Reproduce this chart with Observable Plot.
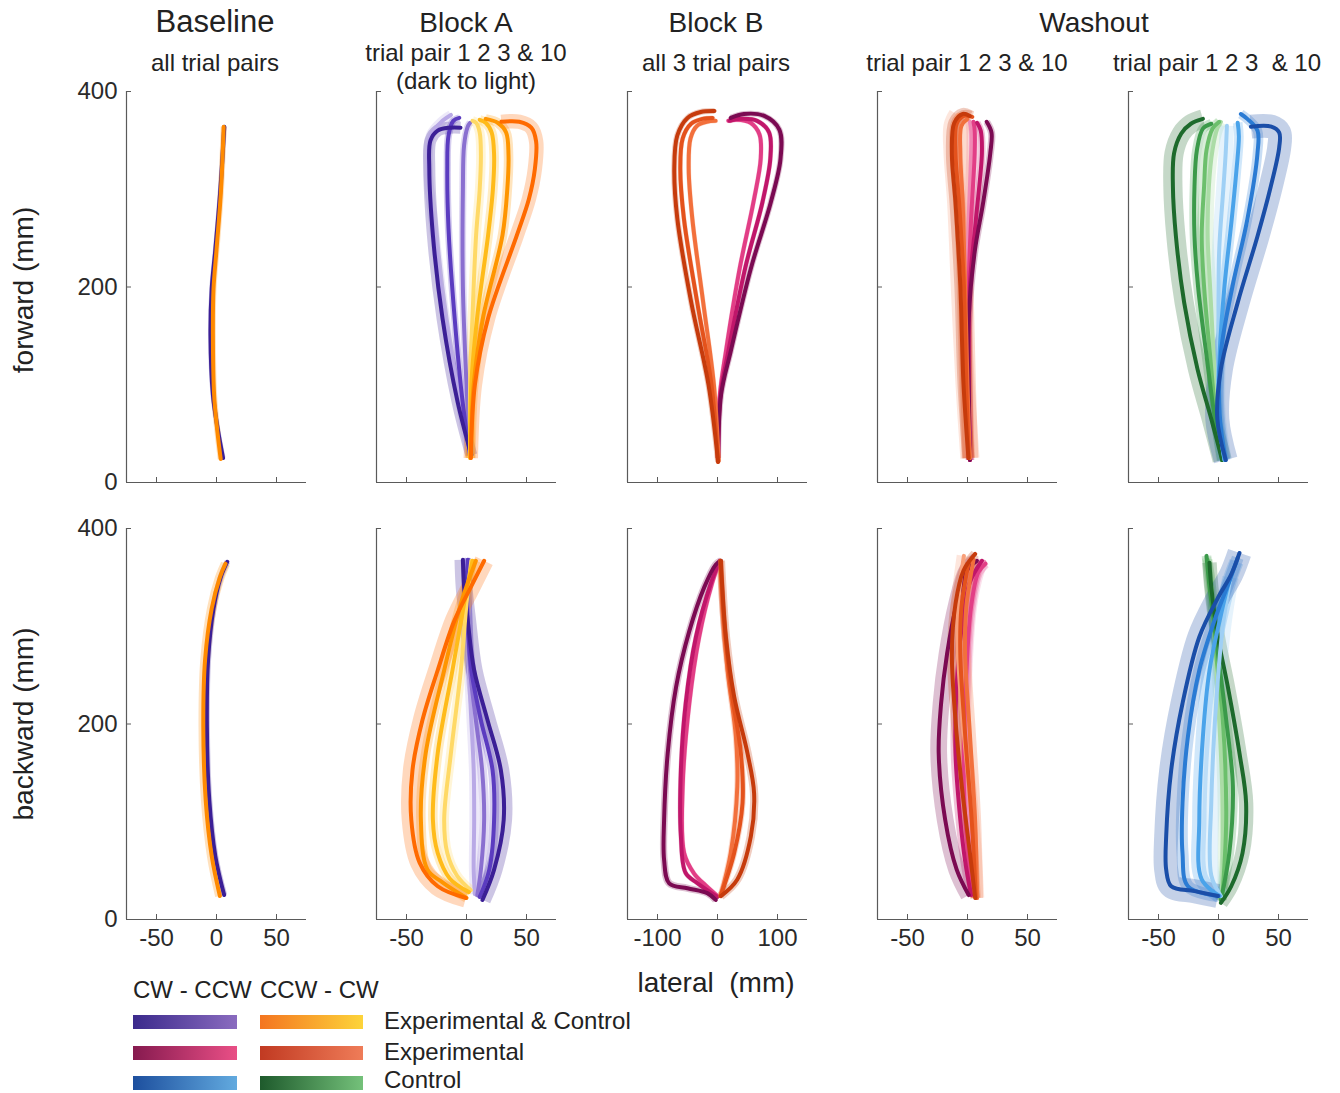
<!DOCTYPE html>
<html><head><meta charset="utf-8">
<script src="https://cdn.jsdelivr.net/npm/d3@7"></script>
<script src="https://cdn.jsdelivr.net/npm/@observablehq/plot@0.6"></script>
<style>
body{margin:0;background:#fff;font-family:"Liberation Sans",Arial,sans-serif;}
#wrap{position:relative;width:1340px;height:1093px;overflow:hidden;background:#fff;}
.panel{position:absolute;}
#ann{position:absolute;left:0;top:0;}
</style></head><body>
<div id="wrap">
<svg id="ann" width="1340" height="1093" font-family="Liberation Sans, Arial, sans-serif" fill="#222">
  <defs>
    <linearGradient id="g1"><stop offset="0" stop-color="#3b2a8c"/><stop offset="1" stop-color="#8a6bbf"/></linearGradient>
    <linearGradient id="g2"><stop offset="0" stop-color="#f47520"/><stop offset="1" stop-color="#fdd43a"/></linearGradient>
    <linearGradient id="g3"><stop offset="0" stop-color="#861a4f"/><stop offset="1" stop-color="#e94f86"/></linearGradient>
    <linearGradient id="g4"><stop offset="0" stop-color="#c13a22"/><stop offset="1" stop-color="#ef7c58"/></linearGradient>
    <linearGradient id="g5"><stop offset="0" stop-color="#1d4f9e"/><stop offset="1" stop-color="#62aadf"/></linearGradient>
    <linearGradient id="g6"><stop offset="0" stop-color="#1e5a2c"/><stop offset="1" stop-color="#74c17a"/></linearGradient>
  </defs>
  <g font-size="28" text-anchor="middle">
    <text x="215" y="32" font-size="31">Baseline</text>
    <text x="466" y="32">Block A</text>
    <text x="716" y="32">Block B</text>
    <text x="1094" y="32">Washout</text>
  </g>
  <g font-size="24" text-anchor="middle">
    <text x="215" y="71">all trial pairs</text>
    <text x="466" y="61">trial pair 1 2 3 &amp; 10</text>
    <text x="466" y="89">(dark to light)</text>
    <text x="716" y="71">all 3 trial pairs</text>
    <text x="967" y="71">trial pair 1 2 3 &amp; 10</text>
    <text x="1217" y="71">trial pair 1 2 3 &#160;&amp; 10</text>
  </g>
  <g font-size="28" text-anchor="middle">
    <text transform="translate(33,290) rotate(-90)">forward (mm)</text>
    <text transform="translate(33,724) rotate(-90)">backward (mm)</text>
    <text x="716" y="992">lateral &#160;(mm)</text>
  </g>
  <g font-size="24">
    <text x="133" y="998">CW - CCW</text>
    <text x="260" y="998">CCW - CW</text>
    <text x="384" y="1029">Experimental &amp; Control</text>
    <text x="384" y="1060">Experimental</text>
    <text x="384" y="1088">Control</text>
  </g>
  <rect x="133" y="1015" width="104" height="14" fill="url(#g1)"/>
  <rect x="260" y="1015" width="103" height="14" fill="url(#g2)"/>
  <rect x="133" y="1046" width="104" height="14" fill="url(#g3)"/>
  <rect x="260" y="1046" width="103" height="14" fill="url(#g4)"/>
  <rect x="133" y="1076" width="104" height="14" fill="url(#g5)"/>
  <rect x="260" y="1076" width="103" height="14" fill="url(#g6)"/>
</svg>
</div>
<script>
// ---------------- DATA (lateral mm, forward/backward mm) ----------------
// Baseline
const baseFwdCW  = [[[5.5,25],[1,55],[-3,90],[-5,150],[-4,198],[-1,238],[3,296],[6.5,364]]];
const baseFwdCCW = [[[3.5,24],[0.5,55],[-2,90],[-3,152],[-2.5,198],[0,238],[3.6,296],[6,364]]];
const baseBwdCW  = [[[6.4,25],[-1,65],[-6,122],[-8,197],[-7,266],[-2.5,318],[3.5,350],[9,366]]];
const baseBwdCCW = [[[2.8,24],[-4,65],[-9,122],[-11,197],[-9.5,266],[-4,318],[2.8,350],[7.5,364]]];
const baseFwdCW_sd = [2], baseFwdCCW_sd = [2.5], baseBwdCW_sd = [2.5], baseBwdCCW_sd = [4];

// Block A (trial pair 1, 2, 3, 10)
const blockAFwdCW = [
  [[4,28],[-7.5,83],[-20,168],[-28,253],[-31,321],[-30,350],[-24,360],[-14,363],[-5,363]],
  [[3,28],[-3,80],[-10,170],[-15,260],[-16,320],[-15,355],[-11,370],[-6,373]],
  [[3,28],[0,100],[-3,200],[-3,300],[-2,345],[1,364],[3,368]],
  [[3,28],[-5,80],[-18,170],[-27,260],[-32,320],[-30,355],[-20,370],[-13,376]]
];
const blockAFwdCCW = [
  [[3.6,25],[7,100],[18,168],[42,253],[52,290],[57,321],[58,349],[54,363],[44,369],[29,369]],
  [[3.6,25],[6,100],[14,170],[30,253],[34,300],[35,335],[33,358],[26,368],[16,372]],
  [[3,25],[4,100],[9,170],[18,253],[22,300],[23,335],[21,358],[16,368],[11,371]],
  [[3,25],[3,100],[5,170],[8,253],[11,300],[12,335],[11,358],[8,368],[5,370]]
];
const blockABwdCW = [
  [[13.3,20],[23,51],[31,102],[28.6,153],[17.5,204],[6.4,255],[1,306],[-2,340],[-3,368]],
  [[11,23],[19,51],[23,102],[21.7,153],[12,204],[4,255],[1,306],[0,340],[1,368]],
  [[9,25],[12,51],[14.7,102],[13,153],[7.8,204],[3,255],[1,306],[1,340],[2,368]],
  [[7,26],[6,51],[6.4,102],[6,153],[4,204],[2,255],[1,306],[0,340],[-1,368]]
];
const blockABwdCCW = [
  [[-0.5,22],[-24,34],[-39,58],[-46,102],[-45,153],[-36.7,204],[-24,255],[-10,306],[3.6,340],[14.7,367]],
  [[0,22],[-20,38],[-32.5,51],[-38,102],[-34,170],[-18.6,255],[-4.7,323],[7.8,367]],
  [[2,28],[-14,42],[-24,68],[-28,102],[-24,170],[-11.7,255],[-2,323],[5,367]],
  [[3.6,30],[-8,45],[-16,68],[-18.6,102],[-13,170],[-4.7,255],[0,323],[4,367]]
];
const blockAFwdCW_sd = [5,3,3,4], blockAFwdCCW_sd = [6,4,4,4];
const blockABwdCW_sd = [7,4,4,4], blockABwdCCW_sd = [8,4,4,4];

// Block B (3 trial pairs)
const blockBFwdCW = [
  [[1,25],[6,90],[22,134],[55.6,219],[89,287],[105,331],[103,361],[78,375],[44,377],[22,373]],
  [[1,25],[5,90],[18,134],[46,219],[75,287],[88,331],[86,358],[66,370],[38,372],[20,370]],
  [[1,25],[4,90],[14,134],[37,219],[60,287],[72,331],[70,356],[55,368],[32,371],[18,370]]
];
const blockBFwdCCW = [
  [[1,21],[-15,100],[-44,185],[-67,270],[-72,321],[-67,355],[-50,373],[-28,379],[-5,380]],
  [[1,21],[-10,100],[-34,185],[-56,270],[-62,321],[-58,352],[-44,367],[-25,372],[-8,373]],
  [[2,22],[-6,100],[-24,185],[-42,270],[-48,321],[-45,352],[-34,365],[-18,369],[-3,370]]
];
const blockBBwdCW = [
  [[-3,20],[-17,27],[-50,32],[-80.5,37],[-89,61],[-89,102],[-83,170],[-69,238],[-47,295],[-22,340],[-3,363],[5.6,367]],
  [[0,23],[-33,37],[-53,47.5],[-61,85],[-61,153],[-53,221],[-36,289],[-11,344],[4,367]],
  [[0,24],[-20,35],[-39,47],[-55.6,68],[-58,136],[-47,221],[-30.6,289],[-9,344],[4,367]]
];
const blockBBwdCCW = [
  [[5.6,24],[33,41],[55.6,85],[61,129],[50,170],[27.8,228],[14,289],[8,340],[5.6,367]],
  [[5,24],[27.8,68],[41.7,119],[39,170],[22,238],[11,306],[5,367]],
  [[5,24],[22,68],[33,136],[30.6,187],[16.7,255],[8,320],[5,367]]
];
const blockBFwdCW_sd = [5,4,4], blockBFwdCCW_sd = [5,4,4];
const blockBBwdCW_sd = [6,4,4], blockBBwdCCW_sd = [7,5,5];

// Washout, experimental group (trial pair 1, 2, 3, 10)
const washExpFwdCW = [
  [[2,23],[1,100],[1,168],[6,236],[13,286],[19,337],[20,358],[16,369]],
  [[2,23],[1,100],[2,202],[7,269],[12,337],[11,360],[8,368]],
  [[2,23],[1,100],[1,202],[3,269],[6,337],[6,360],[5,369]],
  [[2,23],[1,100],[0,202],[1,269],[3,337],[3,360],[2,369]]
];
const washExpFwdCCW = [
  [[0.8,25],[-3.3,100],[-6,202],[-10,286],[-13,337],[-11,368],[-4,377],[2,375]],
  [[1,25],[-1,100],[-3,202],[-7,286],[-10,337],[-9,367],[-3,375],[4,374]],
  [[2,25],[0,100],[-2,202],[-4,286],[-6,337],[-5,365],[0,372]],
  [[2,25],[-2,100],[-6,202],[-9,286],[-12,337],[-12,365],[-8,376]]
];
const washExpBwdCW = [
  [[1,25],[-9,51],[-18.6,102],[-24,170],[-22,221],[-17,272],[-9,323],[-0.5,357],[7.8,367]],
  [[3,25],[-2,60],[-6,102],[-10,170],[-9,240],[-4.7,300],[2,345],[12,367]],
  [[5,25],[1,60],[-3,136],[-1,250],[3,320],[9,355],[15,364]],
  [[6,24],[3,60],[-1,136],[0,250],[4,320],[10,355],[14,366]]
];
const washExpBwdCCW = [
  [[6.4,22],[2,68],[-4.7,136],[-10,204],[-13,272],[-10,323],[-3.3,357],[6.4,374]],
  [[7,22],[3.6,100],[-2,190],[-6,272],[-5,320],[1,365]],
  [[8,22],[6.4,100],[2,190],[-2,272],[-1,320],[5,368]],
  [[8,22],[4,100],[-3,190],[-8,272],[-8,320],[-3,372]]
];
const washExpFwdCW_sd = [3,3,3,4], washExpFwdCCW_sd = [5,5,7,8];
const washExpBwdCW_sd = [7,4,4,4], washExpBwdCCW_sd = [4,4,5,6];

// Washout, control group (trial pair 1, 2, 3, 10)
const washCtlFwdCW = [
  [[6,23],[-1,65],[2,116],[16,184],[32.5,252],[43.6,303],[50.6,343],[50.6,358],[44,364],[27,364]],
  [[6,23],[1,70],[2,133],[11.7,201],[24,269],[32.5,337],[32.5,360],[24,372],[18.6,377]],
  [[5,23],[0,70],[1,133],[5,201],[11,269],[15,320],[17,354],[16,368]],
  [[5,23],[0,70],[0,133],[0.5,235],[4,300],[6,337],[7,365]]
];
const washCtlFwdCCW = [
  [[3,23],[-6,65],[-17.5,116],[-28.6,184],[-35.5,252],[-38,303],[-37,337],[-31,357],[-23,367],[-13,372]],
  [[3,23],[-3,65],[-10,130],[-17,200],[-20,252],[-20,303],[-18,340],[-13,362],[-6,367]],
  [[3,23],[-2,65],[-7,130],[-12,200],[-14,252],[-12,303],[-10,340],[-5,362],[0.5,369]],
  [[3,23],[-1,65],[-4,130],[-7,200],[-9,252],[-8,303],[-5,340],[-1,362],[2,369]]
];
const washCtlBwdCW = [
  [[-0.5,24],[-20,29],[-39.4,34],[-43.6,51],[-43.6,85],[-39.4,153],[-30,221],[-16,289],[-0.5,329],[10.6,353],[17.5,375]],
  [[0,24],[-25.5,34],[-30,68],[-30,119],[-25.5,187],[-16,255],[-3.3,306],[9,346],[16,370]],
  [[1,24],[-14,41],[-16,102],[-13,187],[-7.5,255],[1,306],[9,346],[15,366]],
  [[2,24],[-6,45],[-6,120],[-2,221],[3.6,300],[10,350]]
];
const washCtlBwdCCW = [
  [[2,17],[10.6,34],[20,68],[23,119],[17.5,170],[7.8,238],[-0.5,289],[-6,340],[-7.5,365]],
  [[2,20],[9,68],[12,136],[6.4,204],[-0.5,272],[-7.5,340],[-10,372]],
  [[3,20],[6.4,102],[3.6,204],[-2,272],[-6,340],[-9,368]],
  [[3,20],[3,136],[-1,238],[-6,340],[-10,370]]
];
const washCtlFwdCW_sd = [10,4,4,6], washCtlFwdCCW_sd = [8,4,4,5];
const washCtlBwdCW_sd = [10,5,6,7], washCtlBwdCCW_sd = [6,4,4,4];

// Axis ticks
const yTicks = [0, 200, 400];
const xTicksNarrow = [-50, 0, 50];
const xTicksWide = [-100, 0, 100];

// ---------------- STYLE ----------------
const purple  = ["#3b1f96","#5b3cc0","#8a6fd0","#b9a9e6"];
const orange  = ["#ff6a00","#ff9500","#ffbb1a","#ffd966"];
const magenta = ["#7b0a52","#c0166a","#e23e86","#f08ab4"];
const red     = ["#c63b0c","#e4521c","#f2703c","#f8a07a"];
const blue    = ["#1a4ea8","#2a7bd4","#4aa3ea","#9fd0f5"];
const green   = ["#1d6a2c","#3b9a4a","#6cbf6c","#abdca6"];
const basePurple = ["#3b1f96"], baseOrange = ["#ff8a00"];

const W = 251, H = 441, ML = 60, MR = 11, MT = 10, MB = 40;
const axisLeft = [125.5, 376, 626.5, 877, 1128];
const rowTop = [91, 528];

function panel(row, col, xdom, xticks, groups) {
  const pxPerMm = (W - ML - MR) / (xdom[1] - xdom[0]);
  const marks = [];
  for (const g of groups) {
    for (let i = g.data.length - 1; i >= 0; i--) {
      marks.push(Plot.line(g.data[i], {x: d => d[0], y: d => d[1], curve: "catmull-rom",
        stroke: g.pal[i], strokeOpacity: 0.26, strokeWidth: 2 * g.sd[i] * pxPerMm,
        strokeLinecap: "butt", strokeLinejoin: "round"}));
    }
  }
  for (const g of groups) {
    for (let i = g.data.length - 1; i >= 0; i--) {
      marks.push(Plot.line(g.data[i], {x: d => d[0], y: d => d[1], curve: "catmull-rom",
        stroke: g.pal[i], strokeWidth: 4, strokeLinecap: "round", strokeLinejoin: "round"}));
    }
  }
  marks.push(Plot.ruleY([0], {stroke: "#5a5a5a", strokeWidth: 1.2}));
  marks.push(Plot.ruleX([xdom[0]], {stroke: "#5a5a5a", strokeWidth: 1.2}));
  marks.push(Plot.axisY({ticks: yTicks, tickSize: -5, stroke: "#5a5a5a", fill: "#2a2a2a",
    tickFormat: col === 0 ? d => String(d) : () => "", label: null, fontSize: 24}));
  marks.push(Plot.axisX({ticks: xticks, tickSize: -5, stroke: "#5a5a5a", fill: "#2a2a2a",
    tickFormat: row === 1 ? d => String(d) : () => "", label: null, fontSize: 24}));
  const svg = Plot.plot({
    width: W, height: H, marginLeft: ML, marginRight: MR, marginTop: MT, marginBottom: MB,
    x: {domain: xdom}, y: {domain: [0, 400]},
    style: {fontFamily: "Liberation Sans, Arial, sans-serif", background: "transparent", overflow: "visible", color: "#2a2a2a"},
    marks
  });
  const div = document.createElement("div");
  div.className = "panel";
  div.style.left = (axisLeft[col] - ML) + "px";
  div.style.top = (rowTop[row] - MT) + "px";
  div.appendChild(svg);
  document.getElementById("wrap").appendChild(div);
}

const N = [-75, 75], Wd = [-150, 150];
panel(0, 0, N, xTicksNarrow, [{data: baseFwdCW, sd: baseFwdCW_sd, pal: basePurple}, {data: baseFwdCCW, sd: baseFwdCCW_sd, pal: baseOrange}]);
panel(0, 1, N, xTicksNarrow, [{data: blockAFwdCW, sd: blockAFwdCW_sd, pal: purple}, {data: blockAFwdCCW, sd: blockAFwdCCW_sd, pal: orange}]);
panel(0, 2, Wd, xTicksWide, [{data: blockBFwdCW, sd: blockBFwdCW_sd, pal: magenta}, {data: blockBFwdCCW, sd: blockBFwdCCW_sd, pal: red}]);
panel(0, 3, N, xTicksNarrow, [{data: washExpFwdCW, sd: washExpFwdCW_sd, pal: magenta}, {data: washExpFwdCCW, sd: washExpFwdCCW_sd, pal: red}]);
panel(0, 4, N, xTicksNarrow, [{data: washCtlFwdCCW, sd: washCtlFwdCCW_sd, pal: green}, {data: washCtlFwdCW, sd: washCtlFwdCW_sd, pal: blue}]);
panel(1, 0, N, xTicksNarrow, [{data: baseBwdCW, sd: baseBwdCW_sd, pal: basePurple}, {data: baseBwdCCW, sd: baseBwdCCW_sd, pal: baseOrange}]);
panel(1, 1, N, xTicksNarrow, [{data: blockABwdCW, sd: blockABwdCW_sd, pal: purple}, {data: blockABwdCCW, sd: blockABwdCCW_sd, pal: orange}]);
panel(1, 2, Wd, xTicksWide, [{data: blockBBwdCW, sd: blockBBwdCW_sd, pal: magenta}, {data: blockBBwdCCW, sd: blockBBwdCCW_sd, pal: red}]);
panel(1, 3, N, xTicksNarrow, [{data: washExpBwdCW, sd: washExpBwdCW_sd, pal: magenta}, {data: washExpBwdCCW, sd: washExpBwdCCW_sd, pal: red}]);
panel(1, 4, N, xTicksNarrow, [{data: washCtlBwdCCW, sd: washCtlBwdCCW_sd, pal: green}, {data: washCtlBwdCW, sd: washCtlBwdCW_sd, pal: blue}]);
</script>
</body></html>
